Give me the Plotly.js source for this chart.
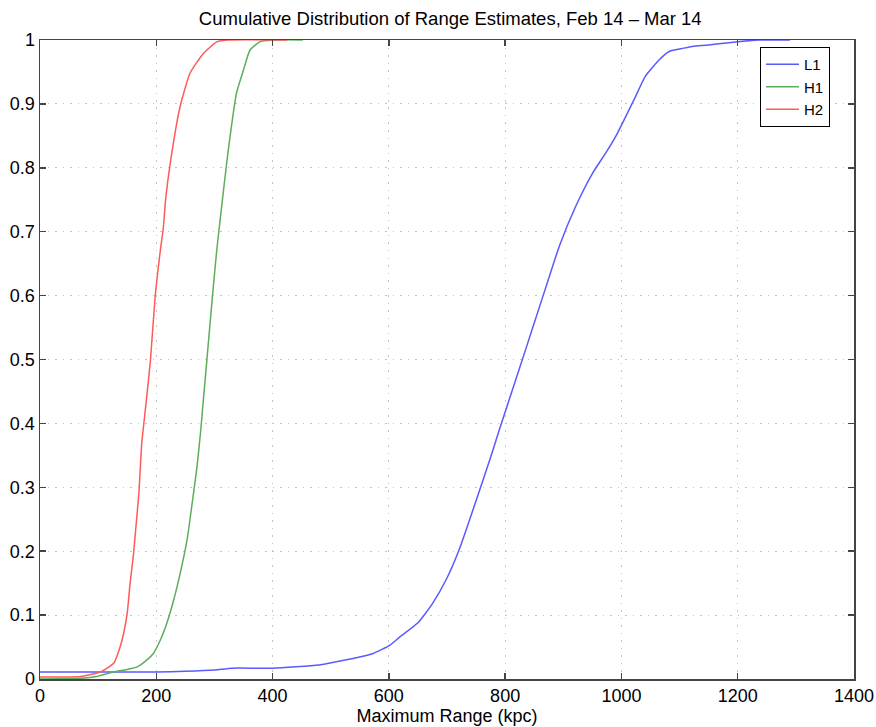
<!DOCTYPE html>
<html>
<head>
<meta charset="utf-8">
<script src="https://cdn.plot.ly/plotly-3.0.1.min.js"></script>
<style>html,body{margin:0;padding:0;background:#fff;}#chart{width:876px;height:727px;}</style>
</head>
<body>
<div id="chart"></div>
<script>
// ---- data ----
const seriesNames = ["L1", "H1", "H2"];

const L1_x = [0, 100, 200, 250, 300, 330, 400, 480, 527, 573, 602, 619, 650, 675, 700, 722, 750, 775, 790, 825, 850, 875, 893, 921, 950, 975, 993, 1024, 1041, 1065, 1082, 1100, 1122, 1150, 1196, 1237, 1290];
const L1_y = [0.011, 0.011, 0.011, 0.012, 0.014, 0.017, 0.017, 0.022, 0.030, 0.040, 0.053, 0.066, 0.088, 0.118, 0.158, 0.205, 0.279, 0.347, 0.390, 0.487, 0.557, 0.627, 0.677, 0.739, 0.791, 0.826, 0.854, 0.911, 0.943, 0.969, 0.982, 0.986, 0.990, 0.992, 0.997, 1.0, 1.0];

const H1_x = [0, 70, 98, 127, 150, 167, 184, 195, 207, 218, 230, 241, 253, 261, 270, 276, 281, 287, 296, 304, 310, 321, 330, 338, 350, 361, 378, 400, 452];
const H1_y = [0, 0.001, 0.004, 0.011, 0.015, 0.019, 0.030, 0.040, 0.061, 0.087, 0.124, 0.165, 0.218, 0.270, 0.332, 0.385, 0.437, 0.499, 0.593, 0.671, 0.720, 0.807, 0.870, 0.917, 0.953, 0.984, 0.997, 1.0, 1.0];

const H2_x = [0, 40, 70, 104, 127, 138, 144, 150, 155, 161, 164, 170, 175, 181, 190, 198, 207, 212, 216, 224, 241, 258, 281, 304, 322, 425];
const H2_y = [0.003, 0.003, 0.004, 0.011, 0.025, 0.051, 0.072, 0.103, 0.150, 0.197, 0.228, 0.290, 0.369, 0.420, 0.499, 0.598, 0.671, 0.705, 0.750, 0.807, 0.896, 0.948, 0.979, 0.997, 1.0, 1.0];

const xTicks = [0, 200, 400, 600, 800, 1000, 1200, 1400];
const yTicks = [0, 0.1, 0.2, 0.3, 0.4, 0.5, 0.6, 0.7, 0.8, 0.9, 1];
const yTickText = ["0", "0.1", "0.2", "0.3", "0.4", "0.5", "0.6", "0.7", "0.8", "0.9", "1"];

const titleText = "Cumulative Distribution of Range Estimates, Feb 14 \u2013 Mar 14";
const xTitle = "Maximum Range (kpc)";

// ---- styling ----
const colors = ["#5a5aff", "#5cae5c", "#ff5a5a"];
const FONT = "Liberation Sans, Arial, Helvetica, sans-serif";

const xs = [L1_x, H1_x, H2_x];
const ys = [L1_y, H1_y, H2_y];
const traces = seriesNames.map((n, i) => ({
  type: "scatter", mode: "lines", name: n,
  x: xs[i], y: ys[i],
  line: {color: colors[i], width: 1.5, shape: "spline", smoothing: 0.5}
}));

const axisCommon = {
  showline: true, linecolor: "#444", linewidth: 1.5, mirror: "ticks",
  ticks: "inside", ticklen: 6, tickwidth: 1.5, tickcolor: "#444",
  showgrid: true, gridcolor: "#c4c4c4", gridwidth: 1, griddash: "1.5px,6px",
  zeroline: false, tickfont: {family: FONT, size: 18, color: "#000"}
};

const layout = {
  width: 876, height: 727,
  margin: {l: 40, r: 22, t: 40, b: 48},
  paper_bgcolor: "#fff", plot_bgcolor: "#fff",
  title: {text: titleText, font: {family: FONT, size: 18.5, color: "#000"},
          x: 0.514, xanchor: "center", y: 0.974, yanchor: "middle"},
  xaxis: Object.assign({}, axisCommon, {
    range: [0, 1400], tickmode: "array", tickvals: xTicks,
    title: {text: xTitle, font: {family: FONT, size: 18, color: "#000"}, standoff: 4}
  }),
  yaxis: Object.assign({}, axisCommon, {
    range: [0, 1], tickmode: "array", tickvals: yTicks, ticktext: yTickText
  }),
  showlegend: true,
  legend: {x: 0.8845, xanchor: "left", y: 0.989, yanchor: "top",
           bgcolor: "#fff", bordercolor: "#000", borderwidth: 1,
           itemwidth: 33, entrywidth: 76, entrywidthmode: "pixels",
           font: {family: FONT, size: 15, color: "#000"}, tracegroupgap: 0}
};

Plotly.newPlot("chart", traces, layout, {displayModeBar: false, staticPlot: true});
</script>
</body>
</html>
